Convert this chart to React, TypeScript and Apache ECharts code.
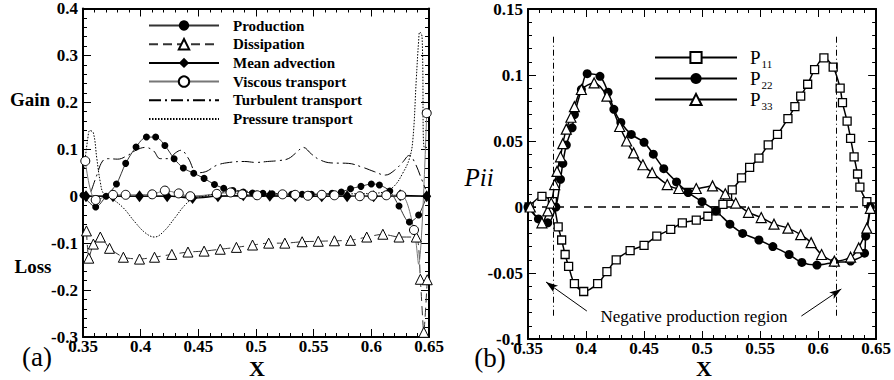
import React, { useEffect, useRef } from "react";
import * as echarts from "echarts";

const FONT = "'Liberation Serif', 'Times New Roman', serif";

// ---------- axes ----------
const xTicks = { min: 0.35, max: 0.65, interval: 0.05 };
const leftY = { min: -0.3, max: 0.4, interval: 0.1 };
const rightY = { min: -0.1, max: 0.15, interval: 0.05 };

const legendA = ["Production", "Dissipation", "Mean advection", "Viscous transport", "Turbulent transport", "Pressure transport"];
const legendB = ["P11", "P22", "P33"];

// ---------- Panel (a) data ----------
const production = [
  [0.35, 0.002], [0.361, -0.023], [0.37, 0.0], [0.379, 0.026], [0.387, 0.07], [0.396, 0.105],
  [0.405, 0.126], [0.413, 0.126], [0.421, 0.108], [0.429, 0.08], [0.437, 0.06], [0.446, 0.049],
  [0.455, 0.038], [0.464, 0.025], [0.472, 0.017], [0.48, 0.012], [0.489, 0.009], [0.497, 0.007],
  [0.506, 0.006], [0.514, 0.005], [0.523, 0.005], [0.531, 0.004], [0.54, 0.004], [0.548, 0.004],
  [0.557, 0.005], [0.566, 0.006], [0.574, 0.009], [0.582, 0.016], [0.591, 0.021], [0.6, 0.026],
  [0.607, 0.024], [0.616, 0.011], [0.624, -0.021], [0.633, -0.055], [0.641, -0.04], [0.648, 0.0],
];

const dissipation = [
  [0.353, -0.074], [0.355, -0.132], [0.359, -0.102], [0.365, -0.087], [0.373, -0.111], [0.385, -0.13],
  [0.399, -0.134], [0.412, -0.13], [0.427, -0.124], [0.441, -0.119], [0.455, -0.117], [0.469, -0.113],
  [0.483, -0.109], [0.497, -0.104], [0.511, -0.1], [0.525, -0.1], [0.54, -0.097], [0.554, -0.096],
  [0.568, -0.095], [0.582, -0.094], [0.596, -0.087], [0.61, -0.081], [0.624, -0.087], [0.639, -0.087],
  [0.6425, -0.177], [0.6455, -0.29], [0.6485, -0.178],
];

const meanAdvection = [
  [0.3526, 0.0], [0.376, 0.0], [0.399, 0.0], [0.423, 0.0], [0.445, -0.004], [0.467, 0.0],
  [0.489, 0.002], [0.512, 0.001], [0.534, 0.0], [0.557, 0.0], [0.579, 0.0], [0.602, 0.0],
  [0.625, 0.002], [0.648, 0.0],
];

const viscous = [
  [0.352, 0.075], [0.361, -0.008], [0.376, 0.003], [0.387, 0.003], [0.41, 0.004], [0.421, 0.012],
  [0.433, 0.006], [0.443, 0.0], [0.466, 0.005], [0.478, 0.008], [0.488, 0.004], [0.501, 0.002],
  [0.523, 0.004], [0.534, 0.003], [0.545, 0.001], [0.557, 0.003], [0.568, 0.002], [0.59, 0.0],
  [0.601, 0.001], [0.613, 0.002], [0.626, 0.002], [0.637, -0.072], [0.641, -0.145], [0.648, 0.177],
];
const viscousHiddenMarkers = [0.641];

const turbulent = [
  [0.357, 0.01], [0.362, 0.045], [0.367, 0.075], [0.372, 0.08], [0.38, 0.079], [0.388, 0.086],
  [0.396, 0.098], [0.404, 0.104], [0.411, 0.097], [0.417, 0.08], [0.424, 0.08], [0.43, 0.092],
  [0.435, 0.098], [0.441, 0.082], [0.449, 0.05], [0.456, 0.052], [0.466, 0.066], [0.477, 0.072],
  [0.49, 0.074], [0.5, 0.072], [0.51, 0.074], [0.52, 0.076], [0.528, 0.08], [0.535, 0.093],
  [0.541, 0.104], [0.548, 0.09], [0.555, 0.078], [0.565, 0.071], [0.58, 0.07], [0.592, 0.062],
  [0.603, 0.052], [0.612, 0.045], [0.62, 0.055], [0.627, 0.072], [0.633, 0.087], [0.638, 0.07],
  [0.643, 0.04], [0.647, 0.015],
];

const pressure = [
  [0.351, 0.06], [0.354, 0.12], [0.356, 0.14], [0.359, 0.135], [0.362, 0.08], [0.365, 0.03],
  [0.368, 0.005], [0.375, -0.005], [0.385, -0.025], [0.395, -0.055], [0.404, -0.078], [0.412, -0.087],
  [0.42, -0.075], [0.43, -0.045], [0.438, -0.02], [0.445, -0.006], [0.455, 0.0], [0.465, 0.005],
  [0.475, 0.01], [0.485, 0.012], [0.5, 0.008], [0.52, 0.005], [0.54, 0.004], [0.56, 0.004],
  [0.58, 0.005], [0.6, 0.006], [0.612, 0.01], [0.62, 0.022], [0.627, 0.048], [0.633, 0.08],
  [0.636, 0.12], [0.639, 0.25], [0.641, 0.33], [0.642, 0.35], [0.644, 0.34], [0.646, 0.104], [0.65, 0.104],
];

// ---------- Panel (b) data ----------
const p11 = [
  [0.351, 0.0], [0.362, 0.008], [0.371, 0.004], [0.376, -0.015], [0.379, -0.025], [0.382, -0.036],
  [0.385, -0.045], [0.39, -0.058], [0.398, -0.064], [0.41, -0.058], [0.418, -0.049], [0.426, -0.04],
  [0.438, -0.033], [0.45, -0.029], [0.461, -0.022], [0.473, -0.017], [0.483, -0.012], [0.495, -0.01],
  [0.505, -0.007], [0.512, -0.003], [0.518, 0.002], [0.522, 0.008], [0.526, 0.013], [0.534, 0.022],
  [0.541, 0.03], [0.549, 0.037], [0.557, 0.047], [0.565, 0.055], [0.574, 0.067], [0.58, 0.076],
  [0.585, 0.084], [0.591, 0.093], [0.597, 0.104], [0.605, 0.113], [0.613, 0.106], [0.619, 0.09],
  [0.621, 0.079], [0.625, 0.065], [0.628, 0.052], [0.631, 0.038], [0.634, 0.025], [0.636, 0.015],
  [0.642, 0.004], [0.646, 0.0],
];

const p22 = [
  [0.35, 0.0], [0.359, -0.009], [0.367, -0.012], [0.374, 0.0], [0.378, 0.021], [0.38, 0.033],
  [0.383, 0.047], [0.388, 0.06], [0.39, 0.07], [0.396, 0.089], [0.401, 0.101], [0.412, 0.099],
  [0.419, 0.087], [0.424, 0.074], [0.43, 0.064], [0.439, 0.055], [0.45, 0.049], [0.458, 0.04],
  [0.467, 0.029], [0.478, 0.019], [0.488, 0.011], [0.5, 0.004], [0.512, -0.003], [0.524, -0.013],
  [0.535, -0.02], [0.549, -0.025], [0.561, -0.03], [0.575, -0.036], [0.586, -0.042], [0.599, -0.044],
  [0.614, -0.042], [0.628, -0.041], [0.64, -0.035], [0.641, -0.022], [0.645, 0.0],
];

const p33 = [
  [0.352, 0.0], [0.362, -0.012], [0.367, -0.003], [0.37, 0.003], [0.373, 0.017], [0.375, 0.027],
  [0.378, 0.038], [0.38, 0.048], [0.383, 0.059], [0.387, 0.068], [0.39, 0.076], [0.396, 0.089],
  [0.407, 0.094], [0.418, 0.084], [0.429, 0.061], [0.435, 0.05], [0.441, 0.041], [0.449, 0.032],
  [0.457, 0.026], [0.47, 0.017], [0.48, 0.014], [0.495, 0.014], [0.509, 0.016], [0.52, 0.01],
  [0.529, 0.003], [0.54, -0.004], [0.551, -0.008], [0.562, -0.013], [0.574, -0.016], [0.585, -0.021],
  [0.594, -0.027], [0.603, -0.036], [0.614, -0.041], [0.628, -0.038], [0.635, -0.031], [0.642, -0.016],
  [0.645, -0.001],
];

const zeroLine = [[0.35, 0], [0.65, 0]];
const regionBoundsX = [0.372, 0.6155];
const regionBoundsY = [-0.083, 0.129];
const arrows = [
  { from: [0.4007, -0.0788], to: [0.3655, -0.0568] },
  { from: [0.5856, -0.0826], to: [0.62, -0.0621] },
];

function xAxes(gridIndex: number) {
  const common: any = {
    type: "value",
    gridIndex,
    min: xTicks.min,
    max: xTicks.max,
    interval: xTicks.interval,
    splitLine: { show: false },
    axisLine: { show: true, onZero: false, lineStyle: { color: "#000", width: 2 } },
    axisTick: { show: true, inside: true, length: 8, lineStyle: { color: "#000", width: 1 } },
    minorTick: { show: true, splitNumber: 5, length: 4, lineStyle: { color: "#000", width: 1 } },
  };
  return [
    {
      ...common,
      position: "bottom",
      axisLabel: { show: true, margin: 1, fontFamily: FONT, fontWeight: "bold", fontSize: 17, color: "#000" },
    },
    { ...common, position: "top", axisLabel: { show: false } },
  ];
}

function yAxes(gridIndex: number, r: { min: number; max: number; interval: number }) {
  const common: any = {
    type: "value",
    gridIndex,
    min: r.min,
    max: r.max,
    interval: r.interval,
    splitLine: { show: false },
    axisLine: { show: true, onZero: false, lineStyle: { color: "#000", width: 2 } },
    axisTick: { show: true, inside: true, length: 8, lineStyle: { color: "#000", width: 1 } },
    minorTick: { show: true, splitNumber: 5, length: 4, lineStyle: { color: "#000", width: 1 } },
  };
  return [
    {
      ...common,
      position: "left",
      axisLabel: { show: true, margin: 5, fontFamily: FONT, fontWeight: "bold", fontSize: 17, color: "#000" },
    },
    { ...common, position: "right", axisLabel: { show: false } },
  ];
}

const openStyle = { color: "#fff", borderColor: "#000", borderWidth: 1 };
const noMarker = { color: "rgba(0,0,0,0)", borderWidth: 0 };

function buildOption(): any {
  const seriesA: any[] = [
    {
      name: "Production", type: "line", data: production, smooth: 0.3,
      symbol: "circle", symbolSize: 7, itemStyle: { color: "#000" },
      lineStyle: { color: "#333", width: 1 },
    },
    {
      name: "Dissipation", type: "line", data: dissipation, smooth: 0.2,
      symbol: "triangle", symbolSize: 10, itemStyle: openStyle,
      lineStyle: { color: "#333", width: 1, type: [9, 5] },
    },
    {
      name: "Mean advection", type: "line", data: meanAdvection, smooth: 0.3,
      symbol: "diamond", symbolSize: [9, 12], itemStyle: { color: "#000" },
      lineStyle: { color: "#000", width: 1.2 },
    },
    {
      name: "Viscous transport", type: "line", smooth: 0.3,
      data: viscous.map((p) => (viscousHiddenMarkers.includes(p[0]) ? { value: p, symbol: "none" } : p)),
      symbol: "circle", symbolSize: 9, itemStyle: openStyle,
      lineStyle: { color: "#777", width: 1 },
    },
    {
      name: "Turbulent transport", type: "line", data: turbulent, smooth: 0.4,
      symbol: "none", itemStyle: noMarker,
      lineStyle: { color: "#000", width: 1, type: [12, 4, 2, 4] },
    },
    {
      name: "Pressure transport", type: "line", data: pressure, smooth: 0.4,
      symbol: "none", itemStyle: noMarker,
      lineStyle: { color: "#000", width: 1, type: [1.5, 1.5] },
    },
    {
      name: "zeroA", type: "line", data: zeroLine, symbol: "none", silent: true, z: 1,
      lineStyle: { color: "#000", width: 1 },
    },
  ].map((s) => ({ ...s, xAxisIndex: 0, yAxisIndex: 0 }));

  const vDash = { color: "#000", width: 1, type: [6, 3, 1, 3] };
  const arrowStyle = { color: "#000", width: 1, type: "solid" };

  const seriesB: any[] = [
    {
      name: "zeroB", type: "line", data: zeroLine, symbol: "none", silent: true, z: 1,
      lineStyle: { color: "#000", width: 1.5, type: [8, 6] },
      markLine: {
        silent: true,
        symbol: "none",
        label: { show: false },
        lineStyle: vDash,
        data: [
          ...regionBoundsX.map((x) => [
            { coord: [x, regionBoundsY[1]], lineStyle: vDash },
            { coord: [x, regionBoundsY[0]], lineStyle: vDash },
          ]),
          ...arrows.map((a) => [
            { coord: a.from, symbol: "none", lineStyle: arrowStyle },
            { coord: a.to, symbol: "arrow", symbolSize: [6, 12], lineStyle: arrowStyle },
          ]),
        ],
      },
    },
    {
      name: "P11", type: "line", data: p11, smooth: 0.3,
      symbol: "rect", symbolSize: 8, itemStyle: { ...openStyle, borderWidth: 1.3 },
      lineStyle: { color: "#000", width: 1.5 },
    },
    {
      name: "P22", type: "line", data: p22, smooth: 0.3,
      symbol: "circle", symbolSize: 9, itemStyle: { color: "#000" },
      lineStyle: { color: "#000", width: 1.5 },
    },
    {
      name: "P33", type: "line", data: p33, smooth: 0.3,
      symbol: "triangle", symbolSize: 10, itemStyle: { ...openStyle, borderWidth: 1.2 },
      lineStyle: { color: "#000", width: 1.5 },
    },
  ].map((s) => ({ ...s, xAxisIndex: 2, yAxisIndex: 2 }));

  const txt = (text: string, x: number, y: number, font: string) => ({
    type: "text",
    x,
    y,
    silent: true,
    style: { text, font, fill: "#000", textAlign: "center", textVerticalAlign: "middle" },
  });

  return {
    animation: false,
    backgroundColor: "#fff",
    grid: [
      { left: 83, top: 8, width: 346, height: 329 },
      { left: 528, top: 9, width: 349, height: 330 },
    ],
    xAxis: [...xAxes(0), ...xAxes(1)],
    yAxis: [...yAxes(0, leftY), ...yAxes(1, rightY)],
    legend: [
      {
        data: legendA,
        orient: "vertical",
        left: 148,
        top: 18,
        padding: 0,
        itemWidth: 70,
        itemHeight: 13,
        itemGap: 3.7,
        selectedMode: false,
        textStyle: { fontFamily: FONT, fontWeight: "bold", fontSize: 15, color: "#000", padding: [0, 0, 0, 9] },
      },
      {
        data: legendB,
        orient: "vertical",
        left: 654,
        top: 46,
        padding: 0,
        itemWidth: 82,
        itemHeight: 14,
        itemGap: -2,
        selectedMode: false,
        formatter: (name: string) => `{p|P}{s|${name.slice(1)}}`,
        textStyle: {
          color: "#000",
          padding: [0, 0, 0, 8],
          rich: {
            p: { fontFamily: FONT, fontSize: 19, color: "#000", lineHeight: 14 },
            s: { fontFamily: FONT, fontSize: 11, color: "#000", lineHeight: 14, padding: [12, 0, 0, 1] },
          },
        },
      },
    ],
    series: [...seriesA, ...seriesB],
    graphic: [
      txt("Gain", 30, 99, `bold 19px ${FONT}`),
      txt("Loss", 33, 266, `bold 19px ${FONT}`),
      txt("(a)", 37, 357, `27px ${FONT}`),
      txt("X", 257, 368, `bold 22px ${FONT}`),
      txt("(b)", 490, 358, `27px ${FONT}`),
      txt("X", 704, 368, `bold 22px ${FONT}`),
      txt("Pii", 479, 177, `italic 25px ${FONT}`),
      txt("Negative production region", 694, 316, `17px ${FONT}`),
    ],
  };
}

export default function App() {
  const ref = useRef<HTMLDivElement>(null);
  useEffect(() => {
    if (!ref.current) return;
    const chart = echarts.init(ref.current, null, { renderer: "svg" });
    chart.setOption(buildOption());
    return () => chart.dispose();
  }, []);
  return (
    <div
      ref={ref}
      style={{ position: "absolute", left: 0, top: 0, width: 894, height: 380, background: "#fff" }}
    />
  );
}
